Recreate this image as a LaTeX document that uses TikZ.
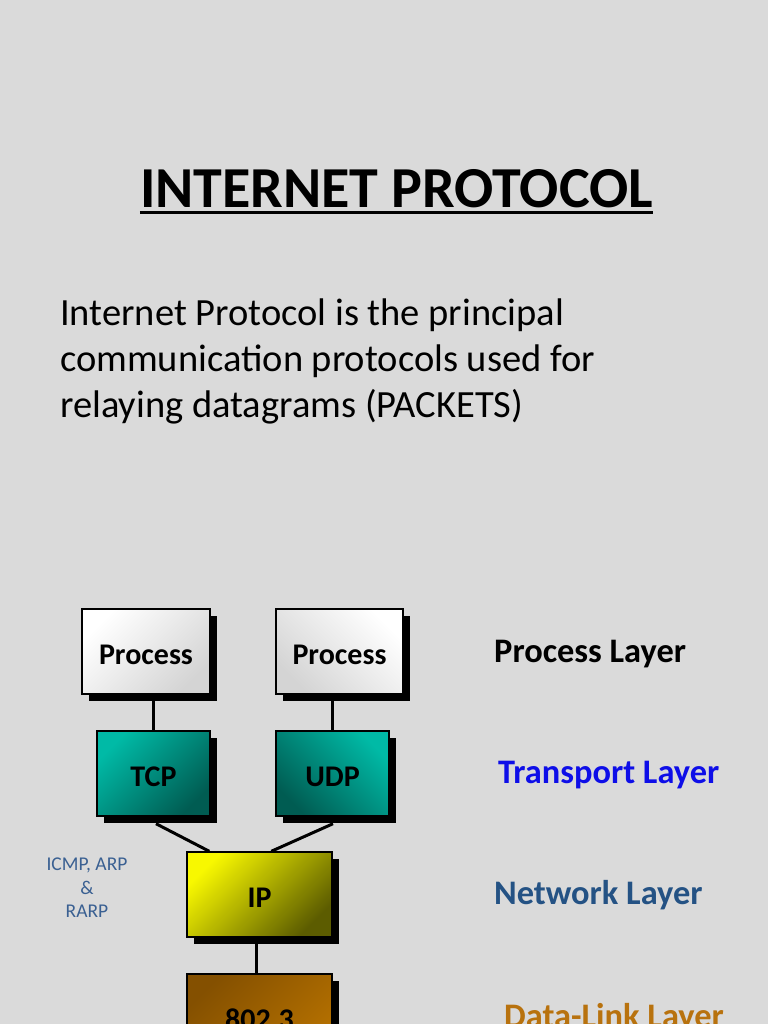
\documentclass[tikz,border=0pt]{standalone}
\usepackage{fontspec}
\setmainfont{Carlito}
\usetikzlibrary{calc,shadows}
\pgfdeclarelayer{bgfill}
\pgfdeclarelayer{links}
\pgfsetlayers{bgfill,links,main}
\definecolor{bg}{RGB}{218,218,218}
\definecolor{procA}{RGB}{255,255,255}
\definecolor{procB}{RGB}{212,212,212}
\definecolor{tealA}{RGB}{0,186,166}
\definecolor{tealB}{RGB}{0,92,82}
\definecolor{yelA}{RGB}{248,248,0}
\definecolor{yelB}{RGB}{92,92,0}
\definecolor{brnA}{RGB}{132,80,0}
\definecolor{brnB}{RGB}{180,112,0}
\definecolor{transc}{RGB}{14,14,232}
\definecolor{netc}{RGB}{36,82,132}
\definecolor{icmpc}{RGB}{58,96,146}
\definecolor{dlc}{RGB}{184,114,14}
\begin{document}
\begin{tikzpicture}[x=1pt,y=-1pt,
  box/.style={draw=black, line width=1.4pt, inner sep=0pt, minimum height=85pt,
    text height=25pt, text depth=0pt,
    font=\fontsize{30}{34}\selectfont\bfseries,
    drop shadow={shadow xshift=7pt,shadow yshift=-7pt,opacity=1,fill=black}},
  shadeL/.style 2 args={top color=#1, bottom color=#2, shading angle=45},
  shadeR/.style 2 args={top color=#1, bottom color=#2, shading angle=-45},
  link/.style={line width=3pt, draw=black},
  layer/.style={anchor=base west, inner sep=0pt, font=\fontsize{34.4}{40}\selectfont\bfseries},
  body/.style={anchor=base west, inner sep=0pt, font=\fontsize{38.5}{46}\selectfont}]
\clip (0,0) rectangle (768,1024);
\begin{pgfonlayer}{bgfill}
\fill[bg] (0,0) rectangle (768,1024);
\end{pgfonlayer}

% title
\node[anchor=base, inner sep=0pt, font=\fontsize{58}{68}\selectfont\bfseries] (title) at (396.5,208) {INTERNET PROTOCOL};
\draw[line width=3pt] ($(title.base west)+(0,5)$) -- ($(title.base east)+(0,5)$);

% body text
\node[body] (b1) at (60,325) {Internet Protocol is the principal};
\node[body] (b2) at (60,371) {communication protocols used for};
\node[body] (b3) at (60,417) {relaying datagrams (PACKETS)};

% boxes
\node[box, minimum width=128pt, shadeL={procA}{procB}] (p1) at (146,651.5) {Process};
\node[box, minimum width=127pt, shadeR={procA}{procB}] (p2) at (339.5,651.5) {Process};
\node[box, minimum width=113pt, shadeL={tealA}{tealB}] (tcp) at (153.5,773.5) {TCP};
\node[box, minimum width=113pt, shadeR={tealA}{tealB}] (udp) at (332.5,773.5) {UDP};
\node[box, minimum width=145pt, shadeL={yelA}{yelB}] (ip) at (259.5,894.5) {IP};
\node[box, minimum width=145pt, shadeL={brnA}{brnB}] (dl) at (259.5,1016.5) {802.3};

% connectors
\begin{pgfonlayer}{links}
\draw[link] (tcp.north) -- (tcp.north |- p1.south);
\draw[link] (udp.north) -- (udp.north |- p2.south);
\draw[link] ($(tcp.south)+(2.5,7)$) -- ($(ip.north west)+(23,0)$);
\draw[link] ($(udp.south)+(0.5,7)$) -- ($(ip.north west)+(85,0)$);
\draw[link] ($(ip.south)+(-3.5,0)$) -- ($(dl.north)+(-3.5,0)$);
\end{pgfonlayer}

% side labels
\node[align=center, inner sep=0pt, text=icmpc, font=\fontsize{19.5}{23.5}\selectfont] (icmp) at (87,888) {ICMP, ARP\\\&\\RARP};

% layer labels
\node[layer] (lproc) at (494,662) {Process Layer};
\node[layer, text=transc] (ltrans) at (498,783) {Transport Layer};
\node[layer, text=netc] (lnet) at (494,904) {Network Layer};
\node[layer, text=dlc] (ldl) at (504,1027) {Data-Link Layer};
\end{tikzpicture}
\end{document}
